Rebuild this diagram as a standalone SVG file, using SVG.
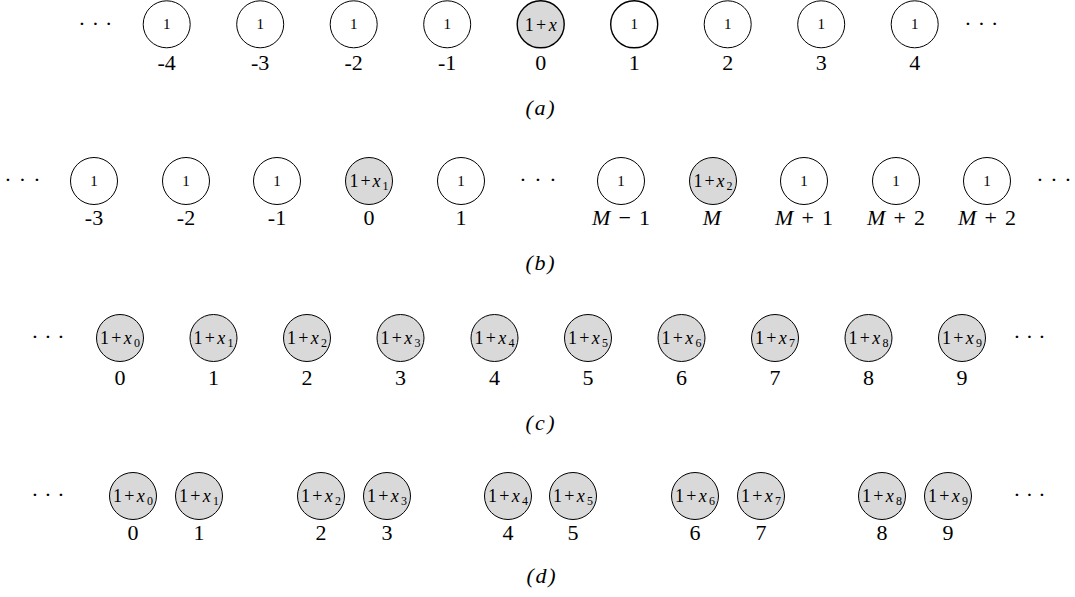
<svg xmlns="http://www.w3.org/2000/svg" width="1075" height="597" viewBox="0 0 1075 597">
<style>
  text { font-family: "Liberation Serif", "DejaVu Serif", serif; fill: #000; }
  .w { fill: #fff; stroke: #000; stroke-width: 1; }
  .g { fill: #d9d9d9; stroke: #000; stroke-width: 1; }
  .bold { stroke-width: 1.4; }
  .one { font-size: 15px; text-anchor: middle; }
  .t { font-size: 18px; text-anchor: middle; }
  .lab { font-size: 22px; text-anchor: middle; }
  .cap { font-size: 22px; font-style: italic; text-anchor: middle; }
  .dots { font-size: 22px; text-anchor: middle; }
  .i { font-style: italic; }
  .s { font-size: 12px; }
</style>
<rect width="1075" height="597" fill="#fff"/>
<g id="connectors"/>

<!-- Row (a) -->
<g id="row-a">
  <text class="dots" x="82 95.3 108.6" y="31">···</text>
  <g id="a-m4"><circle class="w" cx="166.7" cy="24.3" r="23.5"/><text class="one" x="166.7" y="29.3">1</text><text class="lab" x="166.7" y="70">-4</text></g>
  <g id="a-m3"><circle class="w" cx="260.2" cy="24.3" r="23.5"/><text class="one" x="260.2" y="29.3">1</text><text class="lab" x="260.2" y="70">-3</text></g>
  <g id="a-m2"><circle class="w" cx="353.7" cy="24.3" r="23.5"/><text class="one" x="353.7" y="29.3">1</text><text class="lab" x="353.7" y="70">-2</text></g>
  <g id="a-m1"><circle class="w" cx="447.2" cy="24.3" r="23.5"/><text class="one" x="447.2" y="29.3">1</text><text class="lab" x="447.2" y="70">-1</text></g>
  <g id="a-0"><circle class="g bold" cx="540.7" cy="24.3" r="23.5"/><text class="t" x="540.7" y="30.5" textLength="32" lengthAdjust="spacing">1+<tspan class="i">x</tspan></text><text class="lab" x="540.7" y="70">0</text></g>
  <g id="a-1"><circle class="w bold" cx="634.2" cy="24.3" r="23.5"/><text class="one" x="634.2" y="29.3">1</text><text class="lab" x="634.2" y="70">1</text></g>
  <g id="a-2"><circle class="w" cx="727.7" cy="24.3" r="23.5"/><text class="one" x="727.7" y="29.3">1</text><text class="lab" x="727.7" y="70">2</text></g>
  <g id="a-3"><circle class="w" cx="821.2" cy="24.3" r="23.5"/><text class="one" x="821.2" y="29.3">1</text><text class="lab" x="821.2" y="70">3</text></g>
  <g id="a-4"><circle class="w" cx="914.7" cy="24.3" r="23.5"/><text class="one" x="914.7" y="29.3">1</text><text class="lab" x="914.7" y="70">4</text></g>
  <text class="dots" x="968 981.3 994.6" y="31">···</text>
  <text class="cap" x="540" y="115" textLength="29" lengthAdjust="spacing">(a)</text>
</g>

<!-- Row (b) -->
<g id="row-b">
  <text class="dots" x="8 22.5 37" y="187">···</text>
  <g id="b-m3"><circle class="w" cx="94" cy="181" r="23.5"/><text class="one" x="94" y="186">1</text><text class="lab" x="94" y="225">-3</text></g>
  <g id="b-m2"><circle class="w" cx="186" cy="181" r="23.5"/><text class="one" x="186" y="186">1</text><text class="lab" x="186" y="225">-2</text></g>
  <g id="b-m1"><circle class="w" cx="277" cy="181" r="23.5"/><text class="one" x="277" y="186">1</text><text class="lab" x="277" y="225">-1</text></g>
  <g id="b-0"><circle class="g" cx="369" cy="181" r="23.5"/><text class="t" x="369" y="187" textLength="39" lengthAdjust="spacing">1+<tspan class="i">x</tspan><tspan class="s" dy="3">1</tspan></text><text class="lab" x="369" y="225">0</text></g>
  <g id="b-1"><circle class="w" cx="461" cy="181" r="23.5"/><text class="one" x="461" y="186">1</text><text class="lab" x="461" y="225">1</text></g>
  <text class="dots" x="523 538 553" y="187">···</text>
  <g id="b-Mm1"><circle class="w" cx="621" cy="181" r="23.5"/><text class="one" x="621" y="186">1</text><text class="lab" x="621" y="225" textLength="58" lengthAdjust="spacing"><tspan class="i">M</tspan> − 1</text></g>
  <g id="b-M"><circle class="g" cx="713" cy="181" r="23.5"/><text class="t" x="713" y="187" textLength="39" lengthAdjust="spacing">1+<tspan class="i">x</tspan><tspan class="s" dy="3">2</tspan></text><text class="lab i" x="712" y="225">M</text></g>
  <g id="b-Mp1"><circle class="w" cx="804" cy="181" r="23.5"/><text class="one" x="804" y="186">1</text><text class="lab" x="804" y="225" textLength="58" lengthAdjust="spacing"><tspan class="i">M</tspan> + 1</text></g>
  <g id="b-Mp2"><circle class="w" cx="896" cy="181" r="23.5"/><text class="one" x="896" y="186">1</text><text class="lab" x="896" y="225" textLength="58" lengthAdjust="spacing"><tspan class="i">M</tspan> + 2</text></g>
  <g id="b-Mp2b"><circle class="w" cx="987" cy="181" r="23.5"/><text class="one" x="987" y="186">1</text><text class="lab" x="987" y="225" textLength="58" lengthAdjust="spacing"><tspan class="i">M</tspan> + 2</text></g>
  <text class="dots" x="1040 1054 1068" y="187">···</text>
  <text class="cap" x="540" y="270" textLength="29" lengthAdjust="spacing">(b)</text>
</g>

<!-- Row (c) -->
<g id="row-c">
  <text class="dots" x="35 48 61" y="344">···</text>
  <g id="c-0"><circle class="g" cx="120" cy="338" r="23.5"/><text class="t" x="120" y="344" textLength="40" lengthAdjust="spacing">1+<tspan class="i">x</tspan><tspan class="s" dy="3">0</tspan></text><text class="lab" x="120" y="385">0</text></g>
  <g id="c-1"><circle class="g" cx="213.5" cy="338" r="23.5"/><text class="t" x="213.5" y="344" textLength="40" lengthAdjust="spacing">1+<tspan class="i">x</tspan><tspan class="s" dy="3">1</tspan></text><text class="lab" x="213.5" y="385">1</text></g>
  <g id="c-2"><circle class="g" cx="307" cy="338" r="23.5"/><text class="t" x="307" y="344" textLength="40" lengthAdjust="spacing">1+<tspan class="i">x</tspan><tspan class="s" dy="3">2</tspan></text><text class="lab" x="307" y="385">2</text></g>
  <g id="c-3"><circle class="g" cx="400.5" cy="338" r="23.5"/><text class="t" x="400.5" y="344" textLength="40" lengthAdjust="spacing">1+<tspan class="i">x</tspan><tspan class="s" dy="3">3</tspan></text><text class="lab" x="400.5" y="385">3</text></g>
  <g id="c-4"><circle class="g" cx="494.5" cy="338" r="23.5"/><text class="t" x="494.5" y="344" textLength="40" lengthAdjust="spacing">1+<tspan class="i">x</tspan><tspan class="s" dy="3">4</tspan></text><text class="lab" x="494.5" y="385">4</text></g>
  <g id="c-5"><circle class="g" cx="588" cy="338" r="23.5"/><text class="t" x="588" y="344" textLength="40" lengthAdjust="spacing">1+<tspan class="i">x</tspan><tspan class="s" dy="3">5</tspan></text><text class="lab" x="588" y="385">5</text></g>
  <g id="c-6"><circle class="g" cx="681.5" cy="338" r="23.5"/><text class="t" x="681.5" y="344" textLength="40" lengthAdjust="spacing">1+<tspan class="i">x</tspan><tspan class="s" dy="3">6</tspan></text><text class="lab" x="681.5" y="385">6</text></g>
  <g id="c-7"><circle class="g" cx="775" cy="338" r="23.5"/><text class="t" x="775" y="344" textLength="40" lengthAdjust="spacing">1+<tspan class="i">x</tspan><tspan class="s" dy="3">7</tspan></text><text class="lab" x="775" y="385">7</text></g>
  <g id="c-8"><circle class="g" cx="868.5" cy="338" r="23.5"/><text class="t" x="868.5" y="344" textLength="40" lengthAdjust="spacing">1+<tspan class="i">x</tspan><tspan class="s" dy="3">8</tspan></text><text class="lab" x="868.5" y="385">8</text></g>
  <g id="c-9"><circle class="g" cx="962" cy="338" r="23.5"/><text class="t" x="962" y="344" textLength="40" lengthAdjust="spacing">1+<tspan class="i">x</tspan><tspan class="s" dy="3">9</tspan></text><text class="lab" x="962" y="385">9</text></g>
  <text class="dots" x="1017 1029.5 1042" y="344">···</text>
  <text class="cap" x="540" y="430" textLength="29" lengthAdjust="spacing">(c)</text>
</g>

<!-- Row (d) -->
<g id="row-d">
  <text class="dots" x="35 48 61" y="502">···</text>
  <g id="d-0"><circle class="g" cx="133" cy="496" r="23.5"/><text class="t" x="133" y="502" textLength="40" lengthAdjust="spacing">1+<tspan class="i">x</tspan><tspan class="s" dy="3">0</tspan></text><text class="lab" x="133" y="540">0</text></g>
  <g id="d-1"><circle class="g" cx="199" cy="496" r="23.5"/><text class="t" x="199" y="502" textLength="40" lengthAdjust="spacing">1+<tspan class="i">x</tspan><tspan class="s" dy="3">1</tspan></text><text class="lab" x="199" y="540">1</text></g>
  <g id="d-2"><circle class="g" cx="321" cy="496" r="23.5"/><text class="t" x="321" y="502" textLength="40" lengthAdjust="spacing">1+<tspan class="i">x</tspan><tspan class="s" dy="3">2</tspan></text><text class="lab" x="321" y="540">2</text></g>
  <g id="d-3"><circle class="g" cx="387" cy="496" r="23.5"/><text class="t" x="387" y="502" textLength="40" lengthAdjust="spacing">1+<tspan class="i">x</tspan><tspan class="s" dy="3">3</tspan></text><text class="lab" x="387" y="540">3</text></g>
  <g id="d-4"><circle class="g" cx="508" cy="496" r="23.5"/><text class="t" x="508" y="502" textLength="40" lengthAdjust="spacing">1+<tspan class="i">x</tspan><tspan class="s" dy="3">4</tspan></text><text class="lab" x="508" y="540">4</text></g>
  <g id="d-5"><circle class="g" cx="573" cy="496" r="23.5"/><text class="t" x="573" y="502" textLength="40" lengthAdjust="spacing">1+<tspan class="i">x</tspan><tspan class="s" dy="3">5</tspan></text><text class="lab" x="573" y="540">5</text></g>
  <g id="d-6"><circle class="g" cx="695" cy="496" r="23.5"/><text class="t" x="695" y="502" textLength="40" lengthAdjust="spacing">1+<tspan class="i">x</tspan><tspan class="s" dy="3">6</tspan></text><text class="lab" x="695" y="540">6</text></g>
  <g id="d-7"><circle class="g" cx="761" cy="496" r="23.5"/><text class="t" x="761" y="502" textLength="40" lengthAdjust="spacing">1+<tspan class="i">x</tspan><tspan class="s" dy="3">7</tspan></text><text class="lab" x="761" y="540">7</text></g>
  <g id="d-8"><circle class="g" cx="882" cy="496" r="23.5"/><text class="t" x="882" y="502" textLength="40" lengthAdjust="spacing">1+<tspan class="i">x</tspan><tspan class="s" dy="3">8</tspan></text><text class="lab" x="882" y="540">8</text></g>
  <g id="d-9"><circle class="g" cx="948" cy="496" r="23.5"/><text class="t" x="948" y="502" textLength="40" lengthAdjust="spacing">1+<tspan class="i">x</tspan><tspan class="s" dy="3">9</tspan></text><text class="lab" x="948" y="540">9</text></g>
  <text class="dots" x="1017 1029.5 1042" y="502">···</text>
  <text class="cap" x="541" y="583" textLength="29" lengthAdjust="spacing">(d)</text>
</g>
</svg>
